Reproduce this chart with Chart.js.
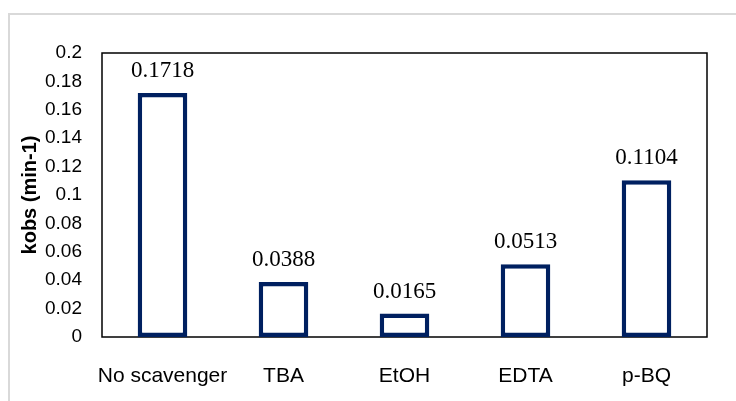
<!DOCTYPE html>
<html>
<head>
<meta charset="utf-8">
<script src="https://cdn.jsdelivr.net/npm/chart.js@4.4.1/dist/chart.umd.min.js"></script>
<style>
  html, body { margin:0; padding:0; background:#fff; overflow:hidden; }
  #frame { position:absolute; left:8px; top:13px; width:800px; height:500px; border:2px solid #d9d9d9; }
  #wrap { position:absolute; left:0; top:0; width:736px; height:401px; }
</style>
</head>
<body>
<div id="frame"></div>
<div id="wrap"><canvas id="chart"></canvas></div>
<script>
const categories = ['No scavenger', 'TBA', 'EtOH', 'EDTA', 'p-BQ'];
const kobs       = [0.1718, 0.0388, 0.0165, 0.0513, 0.1104];
const yTicks     = [0, 0.02, 0.04, 0.06, 0.08, 0.1, 0.12, 0.14, 0.16, 0.18, 0.2];

const plotBox = {
    id: 'plotBox',
    beforeDatasetsDraw(chart) {
        const a = chart.chartArea, c = chart.ctx;
        c.save();
        c.strokeStyle = '#000';
        c.lineWidth = 1.5;
        c.strokeRect(a.left, a.top, a.right - a.left, a.bottom - a.top);
        c.restore();
    }
};

const valueLabels = {
    id: 'valueLabels',
    afterDatasetsDraw(chart) {
        const c = chart.ctx;
        const meta = chart.getDatasetMeta(0);
        c.save();
        c.font = '23px "Liberation Serif", "Times New Roman", serif';
        c.fillStyle = '#000';
        c.textAlign = 'center';
        c.textBaseline = 'alphabetic';
        meta.data.forEach((bar, i) => {
            c.fillText(kobs[i].toFixed(4), bar.x, bar.y - 16);
        });
        c.restore();
    }
};

new Chart(document.getElementById('chart'), {
    type: 'bar',
    data: {
        labels: categories,
        datasets: [{
            data           : kobs,
            backgroundColor: '#ffffff',
            borderColor    : '#002060',
            borderWidth    : 4.5,
            borderSkipped  : false,
            barPercentage  : 0.41,
            categoryPercentage: 1,
        }]
    },
    options: {
        responsive: true,
        maintainAspectRatio: false,
        animation: false,
        layout: { padding: { top: 53, right: 29, left: 0, bottom: 0 } },
        plugins: { legend: { display:false }, tooltip: { enabled:false } },
        scales: {
            x: {
                grid: { display:false },
                border: { display:false },
                ticks: {
                    color:'#000', padding:19, maxRotation:0, minRotation:0, autoSkip:false,
                    font:{ family:'"Liberation Sans", Arial, sans-serif', size:21 }
                },
                afterFit(s) { s.height = 64; }
            },
            y: {
                min: 0, max: 0.2,
                grid: { display:false },
                border: { display:false },
                afterBuildTicks(s) { s.ticks = yTicks.map(v => ({ value:v })); },
                ticks: {
                    color:'#000', padding:12,
                    font:{ family:'"Liberation Sans", Arial, sans-serif', size:19 },
                    callback: v => String(Number(v.toFixed(2)))
                },
                title: {
                    display:true, text:'kobs (min-1)', color:'#000',
                    font:{ family:'"Liberation Sans", Arial, sans-serif', size:20, weight:'bold' },
                    padding:{ top:18, bottom:0 }
                },
                afterFit(s) { s.width = 102; }
            }
        }
    },
    plugins: [plotBox, valueLabels]
});
</script>
</body>
</html>
